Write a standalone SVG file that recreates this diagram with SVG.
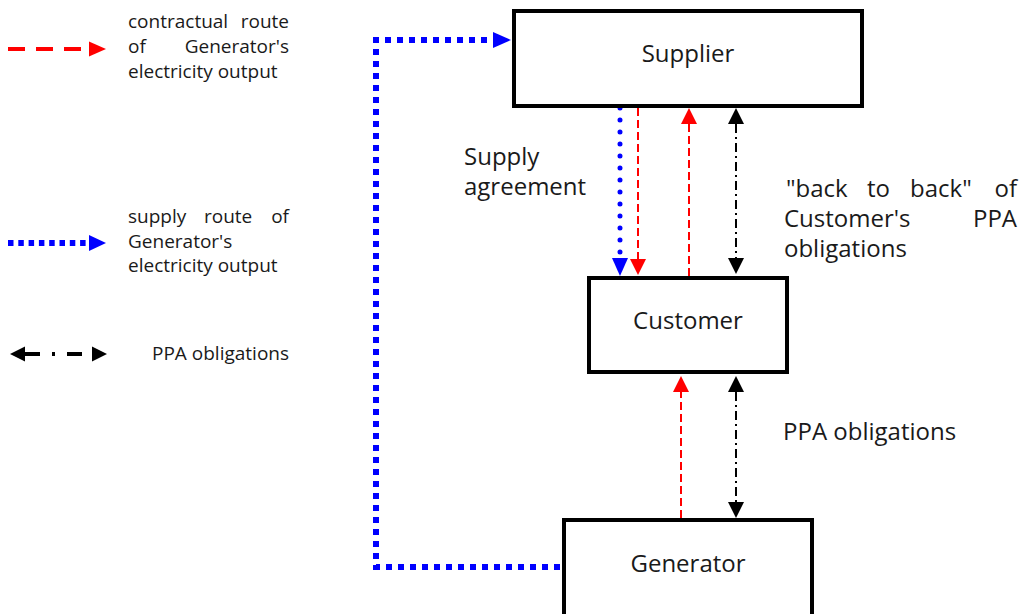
<svg xmlns="http://www.w3.org/2000/svg" width="1021" height="614" viewBox="0 0 1021 614">
<style>
  .box { fill: #fff; stroke: #000; stroke-width: 4; }
  .lbl { font-family: "Open Sans", "Noto Sans", "DejaVu Sans", sans-serif; fill: #1a1a1a; }
  .big { font-size: 24px; }
  .small { font-size: 19px; }
  .mid { text-anchor: middle; }
  .end { text-anchor: end; }
  .red { fill: none; stroke: #ff0000; stroke-width: 2; stroke-dasharray: 8 4; }
  .blk { fill: none; stroke: #000; stroke-width: 2; stroke-dasharray: 9 4 2 4; }
  .blueSq { fill: none; stroke: #0000ff; stroke-width: 6; stroke-dasharray: 6 6; }
  .blueDot { fill: none; stroke: #0000ff; stroke-width: 5; stroke-linecap: round; stroke-dasharray: 0 12; }
</style>
<defs>
  <marker id="aRed" markerUnits="userSpaceOnUse" markerWidth="16" markerHeight="16" refX="0" refY="8" orient="auto"><path d="M0,0 L16,8 L0,16 z" fill="#ff0000"/></marker>
  <marker id="aBlue" markerUnits="userSpaceOnUse" markerWidth="18" markerHeight="16" refX="0" refY="8" orient="auto"><path d="M0,0 L18,8 L0,16 z" fill="#0000ff"/></marker>
  <marker id="aBlk" markerUnits="userSpaceOnUse" markerWidth="16" markerHeight="16" refX="0" refY="8" orient="auto-start-reverse"><path d="M0,0 L16,8 L0,16 z" fill="#000"/></marker>
</defs>

<g id="legend">
  <line x1="8" y1="49" x2="89" y2="49" stroke="#ff0000" stroke-width="4" stroke-dasharray="17 11"/>
  <polygon points="89,41.5 106,49 89,56.5" fill="#ff0000"/>
  <text class="lbl small" x="128" y="28">contractual</text>
  <text class="lbl small end" x="289" y="28">route</text>
  <text class="lbl small" x="128" y="53">of</text>
  <text class="lbl small end" x="289" y="53">Generator's</text>
  <text class="lbl small" x="128" y="78">electricity output</text>

  <line x1="8" y1="243" x2="89" y2="243" stroke="#0000ff" stroke-width="6" stroke-dasharray="5.5 4.8"/>
  <polygon points="89,235 106,243 89,251" fill="#0000ff"/>
  <text class="lbl small" x="128" y="223">supply</text>
  <text class="lbl small" x="204" y="223">route</text>
  <text class="lbl small end" x="289" y="223">of</text>
  <text class="lbl small" x="128" y="248">Generator's</text>
  <text class="lbl small" x="128" y="272">electricity output</text>

  <polygon points="25,346.5 10,354 25,361.5" fill="#000"/>
  <line x1="25" y1="354" x2="82" y2="354" stroke="#000" stroke-width="4" stroke-dasharray="15 12 3 12 15"/>
  <polygon points="92,346.5 107,354 92,361.5" fill="#000"/>
  <text class="lbl small" x="152" y="360">PPA obligations</text>
</g>

<g id="connectors">
  <path class="blueSq" d="M560,567 H376 V40 H493" marker-end="url(#aBlue)"/>
  <line class="blueDot" x1="620" y1="108" x2="620" y2="258" marker-end="url(#aBlue)"/>
  <line class="red" x1="638" y1="108" x2="638" y2="259" marker-end="url(#aRed)"/>
  <line class="red" x1="689" y1="276" x2="689" y2="124" marker-end="url(#aRed)"/>
  <line class="blk" x1="736" y1="124" x2="736" y2="258" marker-start="url(#aBlk)" marker-end="url(#aBlk)"/>
  <line class="red" x1="681" y1="518" x2="681" y2="392" marker-end="url(#aRed)"/>
  <line class="blk" x1="736" y1="392" x2="736" y2="502" marker-start="url(#aBlk)" marker-end="url(#aBlk)"/>
  <text class="lbl big" x="464" y="165">Supply</text>
  <text class="lbl big" x="464" y="195">agreement</text>
  <text class="lbl big" x="786" y="197">"back</text>
  <text class="lbl big" x="867" y="197">to</text>
  <text class="lbl big" x="910" y="197">back"</text>
  <text class="lbl big end" x="1017" y="197">of</text>
  <text class="lbl big" x="784" y="227">Customer's</text>
  <text class="lbl big end" x="1017" y="227">PPA</text>
  <text class="lbl big" x="784" y="257">obligations</text>
  <text class="lbl big" x="783" y="440">PPA obligations</text>
</g>

<g id="supplier">
  <rect class="box" x="514" y="11" width="348" height="95"/>
  <text class="lbl big mid" x="688" y="62">Supplier</text>
</g>
<g id="customer">
  <rect class="box" x="589" y="278" width="198" height="94"/>
  <text class="lbl big mid" x="688" y="329">Customer</text>
</g>
<g id="generator">
  <rect class="box" x="564" y="520" width="248" height="100"/>
  <text class="lbl big mid" x="688" y="572">Generator</text>
</g>
</svg>
